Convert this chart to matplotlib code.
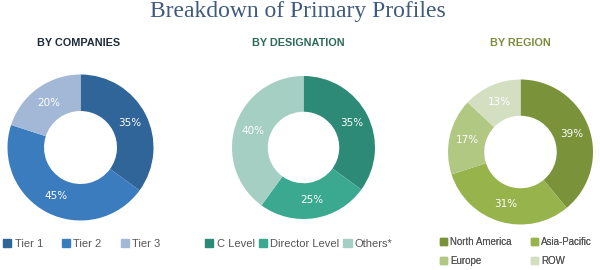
import matplotlib
matplotlib.use("Agg")
import matplotlib.pyplot as plt
from matplotlib.patches import Patch

# data
company_labels = ["Tier 1", "Tier 2", "Tier 3"]
company_values = [35, 45, 20]
designation_labels = ["C Level", "Director Level", "Others*"]
designation_values = [35, 25, 40]
region_labels = ["North America", "Asia-Pacific", "Europe", "ROW"]
region_values = [39, 31, 17, 13]

company_colors = ["#2f6598", "#3b7cbf", "#a3b8d6"]
designation_colors = ["#2d8a77", "#3aa98f", "#a6cfc4"]
region_colors = ["#7a933a", "#97b34b", "#b1c883", "#d4dfc2"]

W, H = 600, 270
fig = plt.figure(figsize=(6, 2.7), dpi=100)
ax = fig.add_axes([0, 0, 1, 1])
ax.set_xlim(0, W)
ax.set_ylim(0, H)
ax.set_aspect("equal")
ax.axis("off")


def donut(values, colors, cx, cy, r):
    wedges, _, autotexts = ax.pie(
        values, colors=colors, center=(cx, H - cy), radius=r,
        startangle=90, counterclock=False, autopct="%d%%", pctdistance=0.75,
        wedgeprops=dict(width=r * 0.5, linewidth=0),
        textprops=dict(color="white", fontsize=7.5, family="DejaVu Sans"))
    return wedges


donut(company_values, company_colors, 80.5, 147.5, 73)
donut(designation_values, designation_colors, 303.5, 147.5, 71.5)
donut(region_values, region_colors, 520.5, 152, 72.5)
ax.set_xlim(0, W)
ax.set_ylim(0, H)

fig.text(298 / W, 1 - 11 / H, "Breakdown of Primary Profiles", ha="center", va="center",
         fontsize=17, family="Liberation Serif", color="#3f5a7e")
sub = dict(ha="center", va="center", fontsize=7.8, family="Liberation Sans", weight="bold")
fig.text(78.5 / W, 1 - 43 / H, "BY COMPANIES", color="#1d2a3a", **sub)
fig.text(298.5 / W, 1 - 43 / H, "BY DESIGNATION", color="#2b6a58", **sub)
fig.text(520.5 / W, 1 - 43 / H, "BY REGION", color="#7c8c3c", **sub)


def legend(labels, colors, x, y, ncol, colsp, size=8, lsp=0.65):
    handles = [Patch(color=c) for c in colors]
    lg = ax.legend(handles, labels, loc="upper left", bbox_to_anchor=(x / W, 1 - y / H),
                   bbox_transform=fig.transFigure, ncol=ncol, frameon=False,
                   handlelength=0.75, handleheight=0.75, handletextpad=0.3,
                   columnspacing=colsp, borderaxespad=0, borderpad=0, labelspacing=lsp,
                   prop=dict(family="Liberation Sans", size=size))
    for t in lg.get_texts():
        t.set_color("#555555")
    ax.add_artist(lg)


legend(company_labels, company_colors, 3, 239, 3, 1.7)
legend(designation_labels, designation_colors, 205, 239, 3, 0.35)
# two rows, filled row by row
order = [0, 2, 1, 3]
legend([region_labels[i] for i in order], [region_colors[i] for i in order],
       440, 237, 2, 2.0, size=7, lsp=0.95)

fig.savefig("out.png", dpi=100)
